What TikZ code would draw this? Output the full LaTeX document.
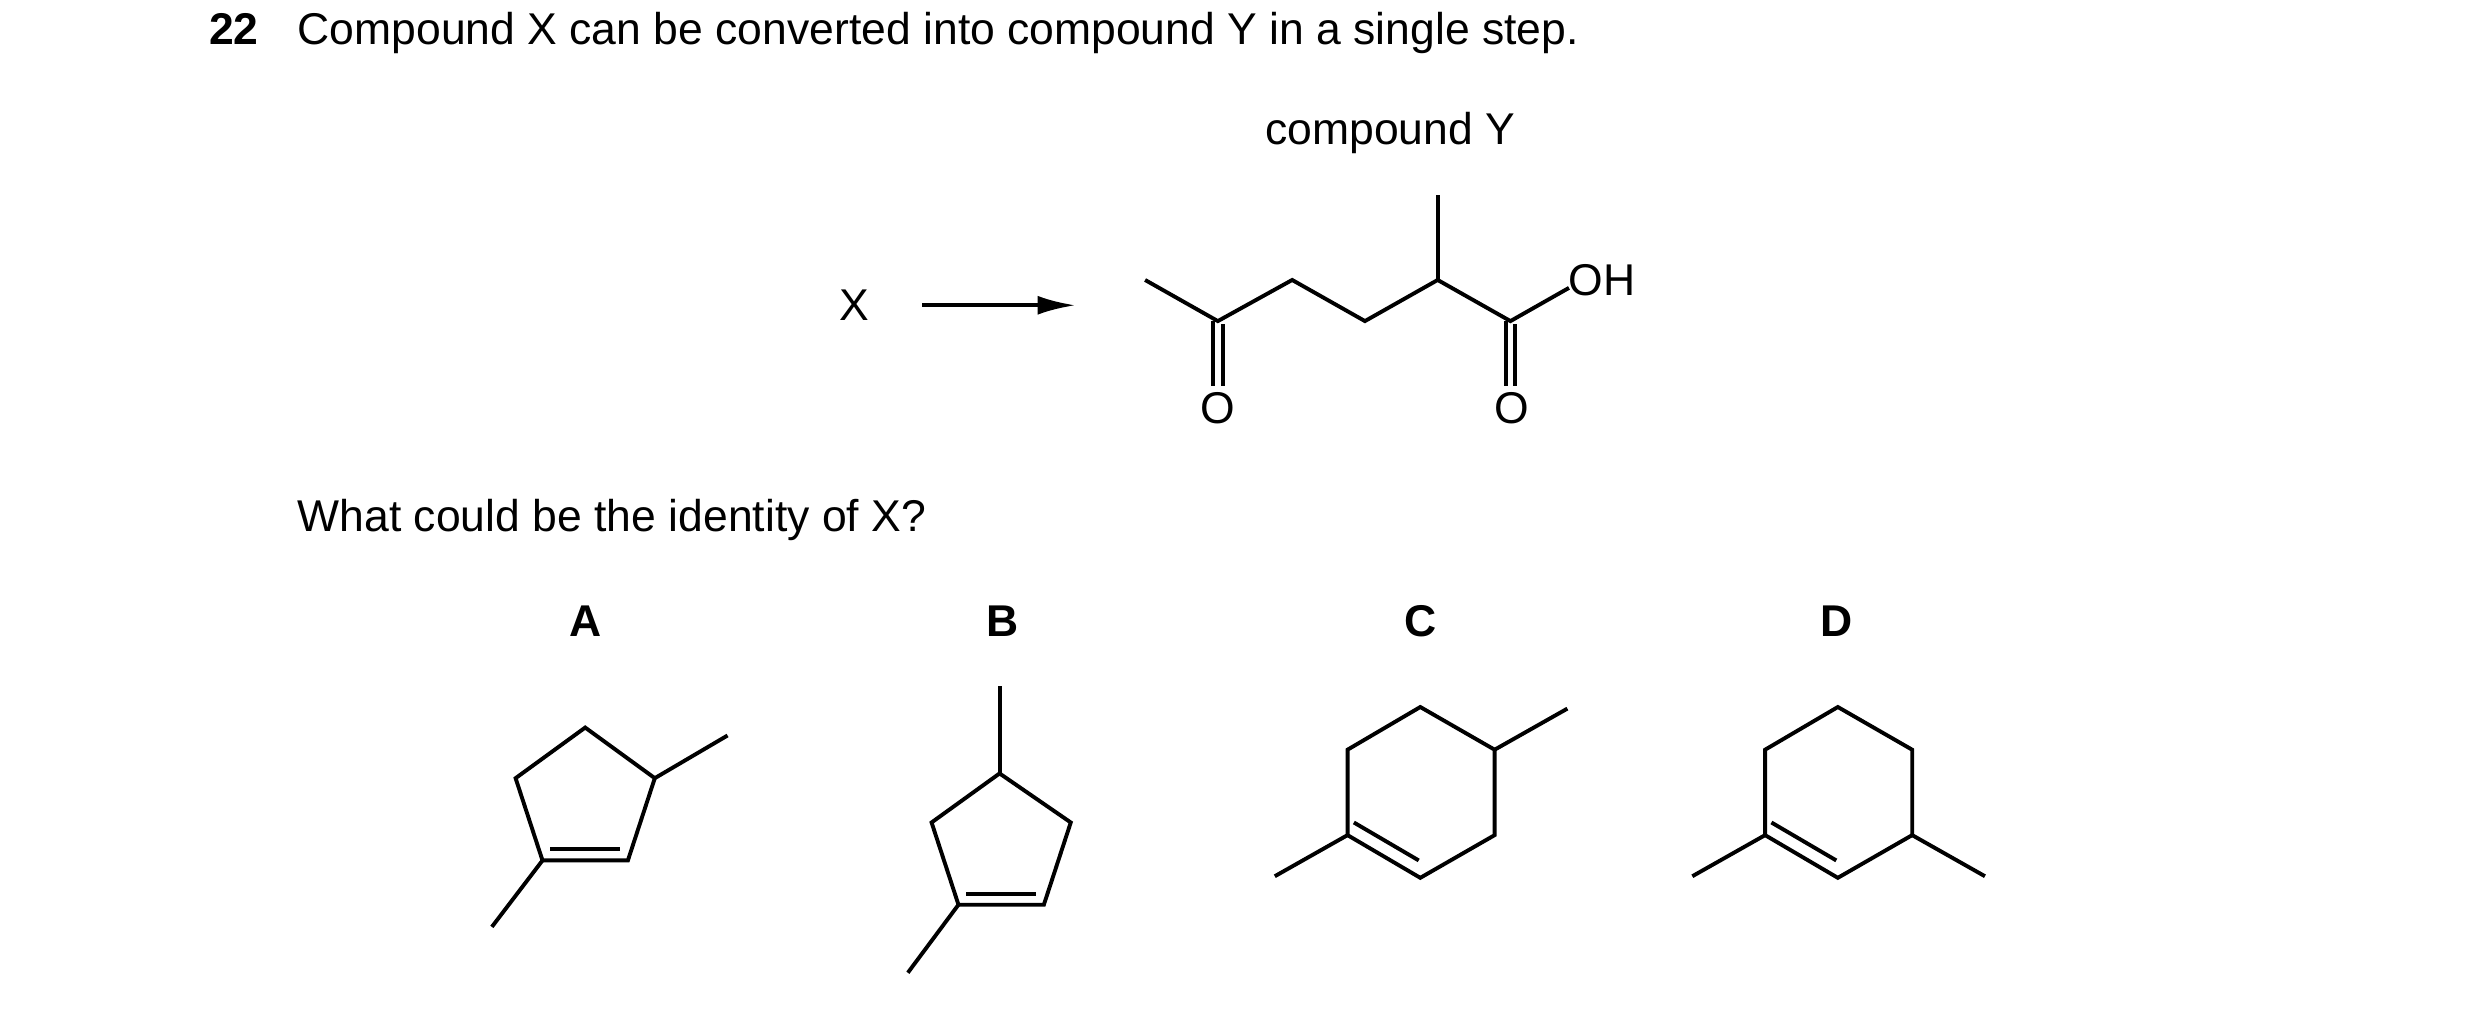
\documentclass[tikz,border=0pt]{standalone}
\usepackage{fontspec}
\setmainfont{Liberation Sans}
\usetikzlibrary{arrows.meta}
\begin{document}
\begin{tikzpicture}[x=0.01cm,y=-0.01cm,line width=0.7pt,line join=miter]
        \tikzstyle{txt}=[font=\fontsize{8}{10}\selectfont,inner sep=0pt]
        \tikzstyle{lbl}=[font=\fontsize{8}{10}\selectfont\bfseries,inner sep=0pt]
        \tikzstyle{bond}=[line width=0.7pt]
        \useasboundingbox (0,0) rectangle (1568,641);
        % question
        \node [lbl,anchor=base west] (num) at (131,28) {22};
        \node [txt,anchor=base west] (stem) at (187,28) {Compound X can be converted into compound Y in a single step.};
        \node [txt] (ylab) at (879,84) {compound Y};
        \node [txt] (X) at (540,193) {X};
        \coordinate (arrend) at (680,193);
        \draw [-{Latex[length=2.4mm,width=1.2mm]}] (583,193) -- (arrend);
        % compound Y
        \draw [bond] (724,177) -- (770,203) -- (817,177) -- (863,203) -- (909,177) -- (955,203) -- (992,182);
        \draw [bond] (909,177) -- (909,123);
        \draw [bond] (767,203) -- (767,244);
        \draw [bond] (773,205) -- (773,244);
        \draw [bond] (952,203) -- (952,244);
        \draw [bond] (958,205) -- (958,244);
        \node [txt] (o1) at (770,258) {O};
        \node [txt] (o2) at (956,258) {O};
        \node [txt] (oh) at (1013,177) {OH};
        \node [txt,anchor=base west] (ask) at (187,336) {What could be the identity of X?};
        % options
        \node [lbl] (A) at (370,393) {A};
        \node [lbl] (B) at (634,393) {B};
        \node [lbl] (C) at (898,393) {C};
        \node [lbl] (D) at (1161,393) {D};
        % A
        \draw [bond] (370,460) -- (414,492) -- (397,544) -- (343,544) -- (326,492) -- cycle;
        \draw [bond] (414,492) -- (460,465);
        \draw [bond] (343,544) -- (311,586);
        \draw [bond] (348,537) -- (392,537);
        % B
        \draw [bond] (632,489) -- (677,520) -- (660,572) -- (606,572) -- (589,520) -- cycle;
        \draw [bond] (632,489) -- (632,434);
        \draw [bond] (606,572) -- (574,615);
        \draw [bond] (611,565) -- (655,565);
        % C
        \draw [bond] (898,447) -- (945,474) -- (945,528) -- (898,555) -- (852,528) -- (852,474) -- cycle;
        \draw [bond] (945,474) -- (991,448);
        \draw [bond] (852,528) -- (806,554);
        \draw [bond] (856,520) -- (897,544);
        % D
        \draw [bond] (1162,447) -- (1209,474) -- (1209,528) -- (1162,555) -- (1116,528) -- (1116,474) -- cycle;
        \draw [bond] (1209,528) -- (1255,554);
        \draw [bond] (1116,528) -- (1070,554);
        \draw [bond] (1120,520) -- (1161,544);
\end{tikzpicture}
\end{document}
